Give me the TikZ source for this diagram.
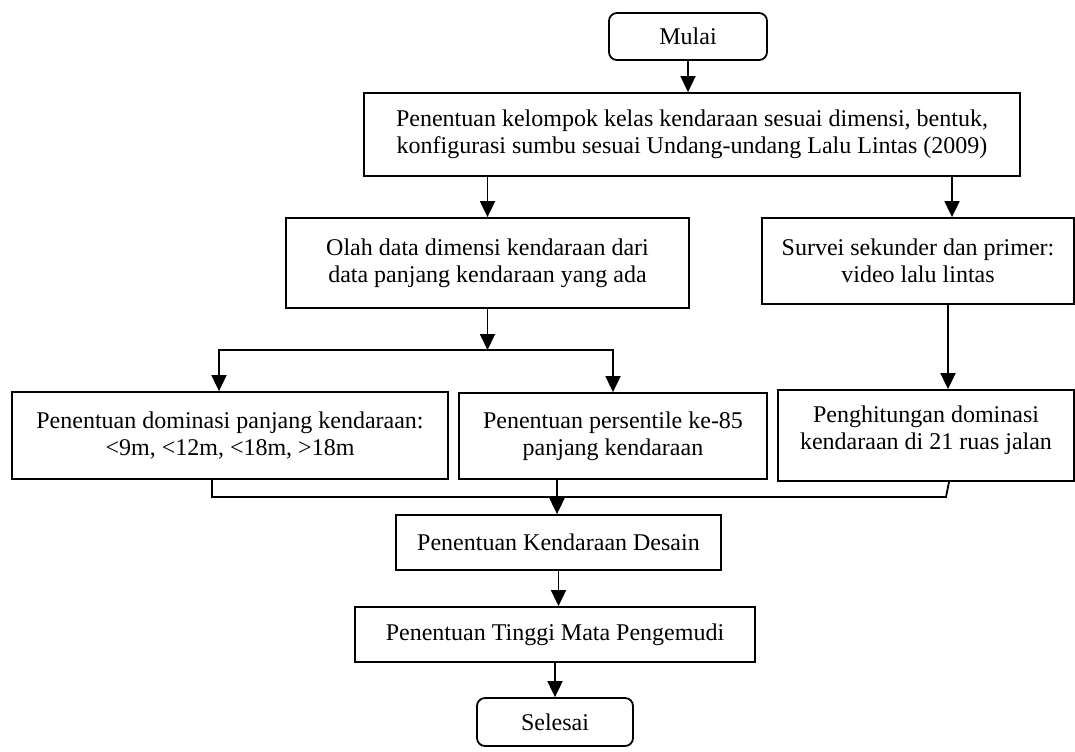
\documentclass[tikz,border=0pt]{standalone}
\usepackage{fontspec}
\setmainfont{Liberation Serif}
\usepackage{tikz}
\usetikzlibrary{arrows.meta, positioning, calc}
\tikzset{
  % Box styles
  termbox/.style={rectangle, rounded corners=4pt, draw=black, line width=0.9pt, minimum width=78pt, minimum height=24pt, align=center, inner sep=2pt},
  processbox/.style={rectangle, draw=black, line width=0.9pt, align=center, inner sep=2pt},
  % Arrow styles
  arrow/.style={-{Triangle[width=7.5pt,length=8pt]}, line width=0.9pt, black},
  plainline/.style={line width=0.9pt, black}
}

\begin{document}
\begin{tikzpicture}[x=0.5pt, y=-0.5pt, font=\fontsize{12}{13.5}\selectfont]
  \useasboundingbox (0,0) rectangle (1075,751);

  % Start and first step
  \node[termbox, minimum width=79pt, minimum height=23.5pt] (mulai) at (688,36.5) {Mulai};
  \node[processbox, minimum width=328pt, minimum height=41.5pt] (kelas) at (692,134.5)
    {Penentuan kelompok kelas kendaraan sesuai dimensi, bentuk,\\konfigurasi sumbu sesuai Undang-undang Lalu Lintas (2009)};

  % Two branches
  \node[processbox, minimum width=201.5pt, minimum height=45pt] (olah) at (487.5,263)
    {Olah data dimensi kendaraan dari\\data panjang kendaraan yang ada};
  \node[processbox, minimum width=156pt, minimum height=43pt] (survei) at (918,261)
    {Survei sekunder dan primer:\\video lalu lintas};

  % Third row
  \node[processbox, minimum width=218pt, minimum height=43.5pt] (dominasi) at (230,435.5)
    {Penentuan dominasi panjang kendaraan:\\<9m, <12m, <18m, >18m};
  \node[processbox, minimum width=154pt, minimum height=43pt] (persen) at (613,436)
    {Penentuan persentile ke-85\\panjang kendaraan};
  \node[processbox, minimum width=148pt, minimum height=45.5pt, text depth=8pt] (hitung) at (926,435.5)
    {Penghitungan dominasi\\kendaraan di 21 ruas jalan};

  % Final steps
  \node[processbox, minimum width=162.5pt, minimum height=27.5pt] (desain) at (558.5,542.5) {Penentuan Kendaraan Desain};
  \node[processbox, minimum width=200pt, minimum height=27.5pt] (tinggi) at (555,634.5) {Penentuan Tinggi Mata Pengemudi};
  \node[termbox, minimum width=78pt, minimum height=24pt] (selesai) at (555,722) {Selesai};

  % Split and merge points
  \coordinate (split) at (487.5,350);
  \coordinate (merge) at (557,497);

  % Connectors
  \draw[arrow] (mulai.south) -- (mulai.south |- kelas.north);
  \draw[arrow] (kelas.south -| olah.north) -- (olah.north);
  \draw[arrow] ([xshift=17pt]survei.north |- kelas.south) -- ([xshift=17pt]survei.north);
  \draw[arrow] (olah.south -| split) -- (split);
  \draw[arrow] (split) -| ([xshift=-5.5pt]dominasi.north);
  \draw[arrow] (split) -| (persen.north);
  \draw[arrow] ([xshift=11pt]hitung.north |- survei.south) -- ([xshift=11pt]hitung.north);

  \draw[plainline] ([xshift=-9pt]dominasi.south) |- (merge);
  \draw[plainline] ([xshift=-28pt]persen.south) -- (merge);
  \draw[plainline] ([xshift=11.5pt]hitung.south) -- ([xshift=10pt]hitung.south |- merge) -- (merge);
  \draw[arrow] (merge) -- (merge |- desain.north);
  \draw[arrow] (desain.south) -- (desain.south |- tinggi.north);
  \draw[arrow] (tinggi.south) -- (selesai.north);
\end{tikzpicture}
\end{document}
